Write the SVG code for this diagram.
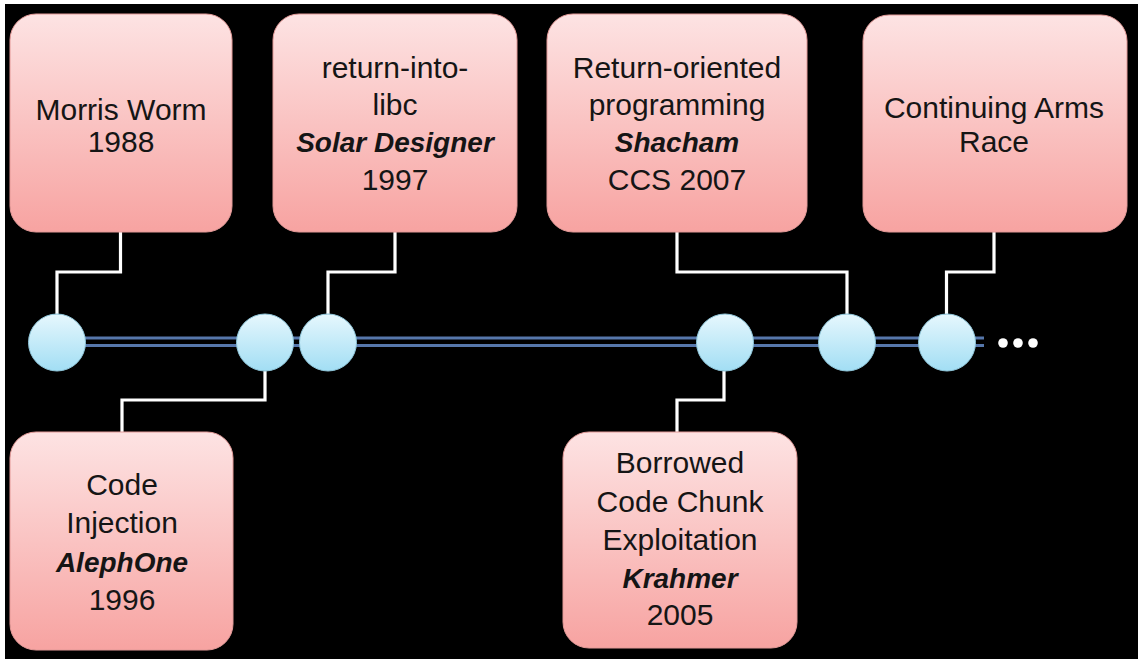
<svg xmlns="http://www.w3.org/2000/svg" width="1138" height="659" viewBox="0 0 1138 659">
<defs>
<linearGradient id="boxg" x1="0" y1="0" x2="0" y2="1">
<stop offset="0" stop-color="#fde3e3"/>
<stop offset="1" stop-color="#f7a3a1"/>
</linearGradient>
<linearGradient id="circg" x1="0" y1="0" x2="0" y2="1">
<stop offset="0" stop-color="#e6f7fd"/>
<stop offset="1" stop-color="#a2def4"/>
</linearGradient>
<style>
.box{fill:url(#boxg);stroke:#e39a98;stroke-width:1}
.dot{fill:url(#circg);stroke:#8fc6da;stroke-width:1}
.conn{fill:none;stroke:#ffffff;stroke-width:3.2;stroke-linejoin:miter}
.tl{stroke:#5677ab;stroke-width:3}
text{font-family:"Liberation Sans",Arial,sans-serif;font-size:30px;fill:#151515;text-anchor:middle}
.bi{font-weight:bold;font-style:italic;font-size:28px}
</style>
</defs>
<rect x="0" y="0" width="1138" height="659" fill="#ffffff"/>
<rect x="5" y="4" width="1133" height="655" fill="#000000"/>

<g id="timeline">
<line class="tl" x1="57" y1="338" x2="984" y2="338"/>
<line class="tl" x1="57" y1="345.5" x2="984" y2="345.5"/>
</g>

<g id="connectors">
<path class="conn" d="M120.5 232 V272 H57 V314"/>
<path class="conn" d="M395 232 V272 H328 V314"/>
<path class="conn" d="M677 232 V272 H847 V314"/>
<path class="conn" d="M994 232 V272 H946.5 V314"/>
<path class="conn" d="M265 371 V400 H122 V432"/>
<path class="conn" d="M724 371 V400 H677 V432"/>
</g>

<g id="morris">
<rect class="box" x="10" y="14" width="222" height="218" rx="26"/>
<text x="121" y="120">Morris Worm</text>
<text x="121" y="152">1988</text>
</g>
<g id="libc">
<rect class="box" x="273" y="14" width="244" height="218" rx="26"/>
<text x="395" y="78">return-into-</text>
<text x="395" y="115">libc</text>
<text class="bi" x="395" y="152">Solar Designer</text>
<text x="395" y="190">1997</text>
</g>
<g id="rop">
<rect class="box" x="547" y="14" width="260" height="218" rx="26"/>
<text x="677" y="78">Return-oriented</text>
<text x="677" y="115">programming</text>
<text class="bi" x="677" y="152">Shacham</text>
<text x="677" y="190">CCS 2007</text>
</g>
<g id="arms">
<rect class="box" x="863" y="15" width="264" height="217" rx="26"/>
<text x="994" y="118">Continuing Arms</text>
<text x="994" y="152">Race</text>
</g>
<g id="injection">
<rect class="box" x="10" y="432" width="223" height="218" rx="26"/>
<text x="122" y="495">Code</text>
<text x="122" y="533">Injection</text>
<text class="bi" x="122" y="572">AlephOne</text>
<text x="122" y="610">1996</text>
</g>
<g id="borrowed">
<rect class="box" x="563" y="432" width="234" height="216" rx="26"/>
<text x="680" y="473">Borrowed</text>
<text x="680" y="512">Code Chunk</text>
<text x="680" y="550">Exploitation</text>
<text class="bi" x="680" y="588">Krahmer</text>
<text x="680" y="625">2005</text>
</g>

<g id="c1"><circle class="dot" cx="57" cy="342.5" r="28.5"/></g>
<g id="c2"><circle class="dot" cx="265" cy="342.5" r="28.5"/></g>
<g id="c3"><circle class="dot" cx="328" cy="342.5" r="28.5"/></g>
<g id="c4"><circle class="dot" cx="725" cy="342.5" r="28.5"/></g>
<g id="c5"><circle class="dot" cx="847" cy="342.5" r="28.5"/></g>
<g id="c6"><circle class="dot" cx="947" cy="342.5" r="28.5"/></g>

<g id="ellipsis" fill="#ffffff">
<circle cx="1003" cy="343" r="4.8"/>
<circle cx="1018" cy="343" r="4.8"/>
<circle cx="1033" cy="343" r="4.8"/>
</g>
</svg>
